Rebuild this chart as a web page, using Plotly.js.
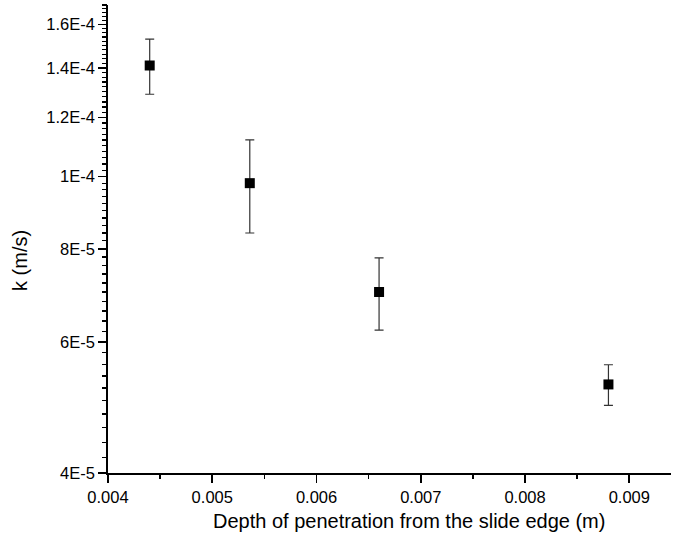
<!DOCTYPE html>
<html>
<head>
<meta charset="utf-8">
<script src="https://cdn.plot.ly/plotly-3.0.1.min.js"></script>
<style>html,body{margin:0;padding:0;background:#fff;}#chart{width:676px;height:544px;}</style>
</head>
<body>
<div id="chart"></div>
<script>
// Data
const depth = [0.0044, 0.00536, 0.0066, 0.0088];          // m
const kValues = [1.41e-4, 9.8e-5, 7.0e-5, 5.26e-5];       // m/s
const kErrors = [1.2e-5, 1.4e-5, 0.78e-5, 0.33e-5];       // m/s

const xTickVals = [0.004, 0.005, 0.006, 0.007, 0.008, 0.009];
const xTickText = ["0.004", "0.005", "0.006", "0.007", "0.008", "0.009"];
const yTickVals = [4e-5, 6e-5, 8e-5, 1e-4, 1.2e-4, 1.4e-4, 1.6e-4];
const yTickText = ["4E-5", "6E-5", "8E-5", "1E-4", "1.2E-4", "1.4E-4", "1.6E-4"];

const xTitle = "Depth of penetration from the slide edge (m)";
const yTitle = "k (m/s)";

// minor tick positions (axis decoration)
const yMinor = [];
for (let i = 21; i <= 85; i++) { if (i % 10 !== 0) yMinor.push(i * 2e-6); }
const xMinor = [];
for (let i = 9; i <= 18; i += 2) { xMinor.push(i * 0.0005); }

const font = "Liberation Sans, Arial, sans-serif";
const xRange = [0.004, 0.0094];
const yRange = [Math.log10(4e-5), Math.log10(1.7e-4)];

const trace = {
  x: depth, y: kValues, type: "scatter", mode: "markers",
  marker: {symbol: "square", size: 10, color: "#000"},
  error_y: {type: "data", array: kErrors, visible: true, color: "#333", thickness: 1.2, width: 4.5},
  showlegend: false
};
// invisible copy so that the overlay axes carrying the minor ticks are drawn
const minorHolder = {x: depth, y: kValues, xaxis: "x2", yaxis: "y2", type: "scatter", mode: "markers",
  marker: {opacity: 0, size: 1}, showlegend: false, hoverinfo: "skip"};

const layout = {
  width: 676, height: 544,
  margin: {l: 108, r: 5, t: 5, b: 71},
  paper_bgcolor: "#fff", plot_bgcolor: "rgba(0,0,0,0)",
  font: {family: font, color: "#000", size: 16.5},
  xaxis: {
    range: xRange, showgrid: false, zeroline: false,
    showline: true, linecolor: "#000", linewidth: 1.8,
    tickmode: "array", tickvals: xTickVals, ticktext: xTickText,
    ticks: "outside", ticklen: 8, tickwidth: 1.6, tickcolor: "#000",
    tickfont: {size: 16.5, family: font}
  },
  yaxis: {
    type: "log", range: yRange,
    showgrid: false, zeroline: false,
    showline: true, linecolor: "#000", linewidth: 1.8,
    tickmode: "array", tickvals: yTickVals, ticktext: yTickText,
    ticks: "outside", ticklen: 8, tickwidth: 1.6, tickcolor: "#000",
    tickfont: {size: 16.5, family: font}
  },
  xaxis2: {
    overlaying: "x", anchor: "y2", side: "bottom", range: xRange,
    showgrid: false, zeroline: false, showline: false,
    tickmode: "array", tickvals: xMinor, showticklabels: false,
    ticks: "outside", ticklen: 5, tickwidth: 1.6, tickcolor: "#000"
  },
  yaxis2: {
    overlaying: "y", anchor: "x2", side: "left", type: "log", range: yRange,
    showgrid: false, zeroline: false, showline: false,
    tickmode: "array", tickvals: yMinor, showticklabels: false,
    ticks: "outside", ticklen: 5, tickwidth: 1.3, tickcolor: "#000"
  },
  annotations: [
    {
      text: yTitle, textangle: -90, showarrow: false,
      xref: "paper", yref: "paper", x: 0, y: 0.453, xshift: -88, xanchor: "center", yanchor: "middle",
      font: {size: 20, family: font, color: "#000"}
    },
    {
      text: xTitle, showarrow: false,
      xref: "paper", yref: "paper", x: 0.886, y: 0, yshift: -48, xanchor: "right", yanchor: "middle",
      font: {size: 20, family: font, color: "#000"}
    }
  ]
};

Plotly.newPlot("chart", [trace, minorHolder], layout, {displayModeBar: false, staticPlot: true});
</script>
</body>
</html>
